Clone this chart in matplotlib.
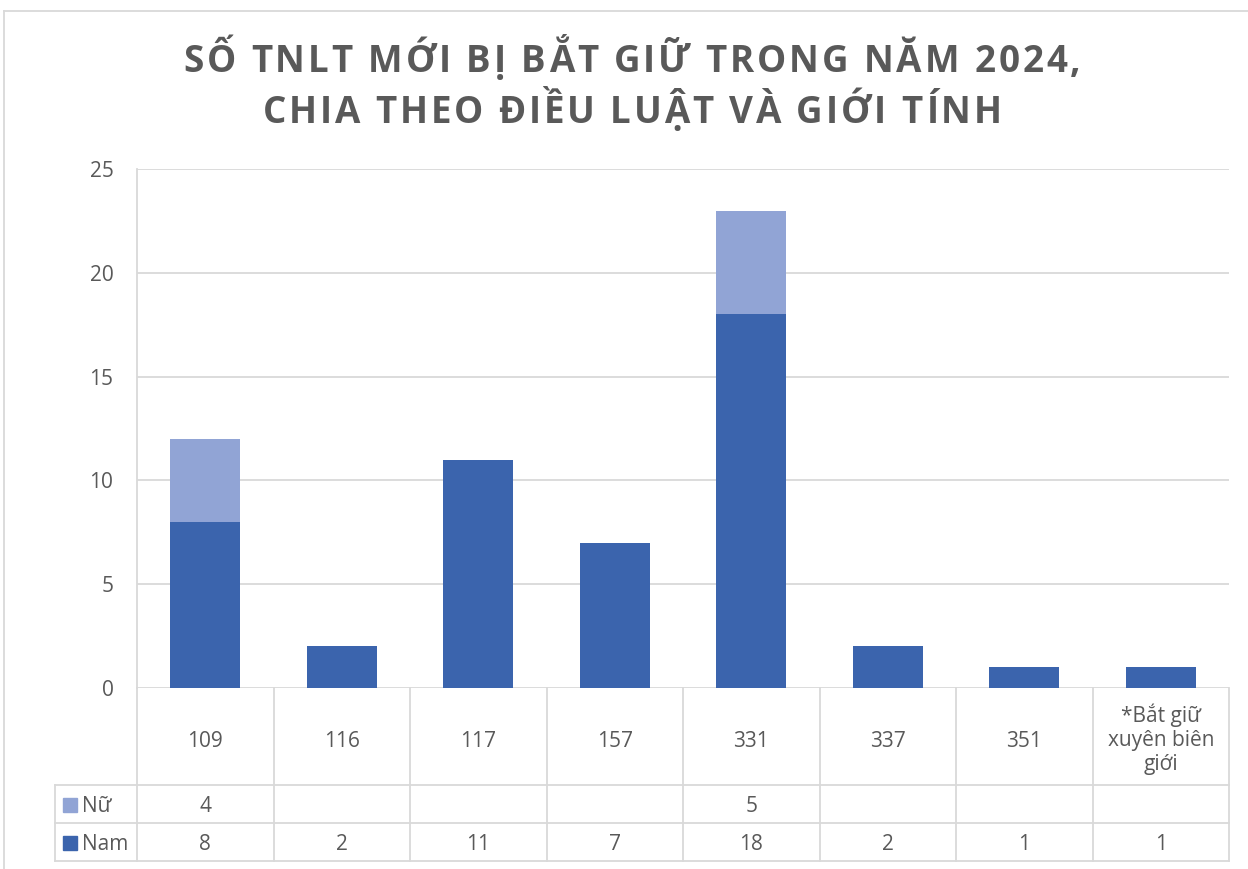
import matplotlib
matplotlib.use("Agg")
import matplotlib.pyplot as plt
import matplotlib.transforms as mtransforms
from matplotlib import font_manager
from matplotlib.ft2font import FT2Font
import numpy as np

plt.rcParams['font.family'] = ['Open Sans', 'DejaVu Sans']

categories = ["109", "116", "117", "157", "331", "337", "351", "*Bắt giữ\nxuyên biên\ngiới"]
nam = [8, 2, 11, 7, 18, 2, 1, 1]
nu = [4, 0, 0, 0, 5, 0, 0, 0]
series_names = ["Nữ", "Nam"]
title_lines = ["SỐ TNLT MỚI BỊ BẮT GIỮ TRONG NĂM 2024,", "CHIA THEO ĐIỀU LUẬT VÀ GIỚI TÍNH"]
yticks = [0, 5, 10, 15, 20, 25]

c_nam = "#3B64AD"
c_nu = "#91A4D5"
grid_c = "#D9D9D9"
txt_c = "#595959"

W, H = 1248, 869
fig = plt.figure(figsize=(W/100, H/100), dpi=100)
ax_l, ax_r, ax_t, ax_b = 137, 1229, 169, 688
ax = fig.add_axes([ax_l/W, 1-ax_b/H, (ax_r-ax_l)/W, (ax_b-ax_t)/H])

fs = 15
n = len(categories)
x = np.arange(n)
ax.bar(x, nam, width=0.51, color=c_nam, zorder=3)
ax.bar(x, nu, width=0.51, bottom=nam, color=c_nu, zorder=3)
ax.set_xlim(-0.5, n-0.5)
ax.set_ylim(0, 25)
ax.set_yticks(yticks)
ax.set_yticklabels([str(t) for t in yticks], fontsize=fs, color=txt_c)
ax.tick_params(axis='y', length=0, pad=17)
ax.set_xticks([])
ax.yaxis.grid(True, color=grid_c, linewidth=1.3, zorder=0)
for s in ["top", "right", "bottom"]:
    ax.spines[s].set_visible(False)
ax.spines["left"].set_color(grid_c)
ax.spines["left"].set_linewidth(1.3)

# table
tr = mtransforms.blended_transform_factory(ax.transData, ax.transAxes)
hpx = ax_b - ax_t
def ay(py):
    return (ax_b - py) / hpx
y_cat_bot = ay(785)
y_nu_bot = ay(823)
y_nam_bot = ay(861)
x_leg = -0.5 - (ax_l - 55) / ((ax_r - ax_l) / n)
dpx = 1.0 / hpx

lk = dict(color=grid_c, linewidth=1.3, clip_on=False, transform=tr, zorder=2)
ax.plot([x_leg, n-0.5], [y_cat_bot]*2, **lk)
ax.plot([x_leg, n-0.5], [y_nu_bot]*2, **lk)
ax.plot([x_leg, n-0.5], [y_nam_bot]*2, **lk)
for b in np.arange(n+1) - 0.5:
    ax.plot([b, b], [0, y_nam_bot], **lk)
ax.plot([x_leg, x_leg], [y_cat_bot, y_nam_bot], **lk)

for i, c in enumerate(categories):
    off = -3 * dpx if "\n" in c else -5 * dpx
    ax.text(i, (0 + y_cat_bot)/2 + off, c, transform=tr, ha='center', va='center',
            fontsize=fs, color=txt_c, linespacing=1.2, clip_on=False)
    if nu[i]:
        ax.text(i, (y_cat_bot + y_nu_bot)/2 - 2*dpx, str(nu[i]), transform=tr, ha='center',
                va='center', fontsize=fs, color=txt_c, clip_on=False)
    ax.text(i, (y_nu_bot + y_nam_bot)/2 - 2*dpx, str(nam[i]), transform=tr, ha='center',
            va='center', fontsize=fs, color=txt_c, clip_on=False)

for name, col, (yt, yb) in zip(series_names, [c_nu, c_nam],
                               [(y_cat_bot, y_nu_bot), (y_nu_bot, y_nam_bot)]):
    ym = (yt + yb) / 2
    yf = 1 - (ax_b - ym*hpx)/H
    fig.patches.append(plt.Rectangle((63/W, yf - 8/H), 14/W, 14/H, color=col,
                                     transform=fig.transFigure, figure=fig))
    fig.text(82/W, yf - 2/H, name, ha='left', va='center', fontsize=fs, color=txt_c)

# title with letter spacing
tsize = 26.5
fp = font_manager.FontProperties(family='Open Sans', weight='bold')
ft = FT2Font(font_manager.findfont(fp))
ft.set_size(tsize, 100)
def advances(s):
    out = []
    for ch in s:
        g = ft.load_char(ord(ch))
        out.append(g.linearHoriAdvance / 65536)
    return out
target_w = 897
title_cx = 632
adv0 = advances(title_lines[0])
spacing = (target_w - sum(adv0)) / (len(adv0) - 1)
for line, base in zip(title_lines, [72, 123]):
    adv = advances(line)
    total = sum(adv) + spacing * (len(adv) - 1)
    xp = title_cx - total/2
    for ch, a in zip(line, adv):
        if ch != " ":
            fig.text(xp/W, 1 - base/H, ch, ha='left', va='baseline', fontsize=tsize,
                     fontproperties=fp, color=txt_c)
        xp += a + spacing

# chart frame fragments
fig.lines.append(plt.Line2D([4/W, 1], [1-11/H]*2, color=grid_c, linewidth=1.3, transform=fig.transFigure))
fig.lines.append(plt.Line2D([4/W, 4/W], [0, 1-11/H], color=grid_c, linewidth=1.3, transform=fig.transFigure))

fig.savefig("out.png", dpi=100)
